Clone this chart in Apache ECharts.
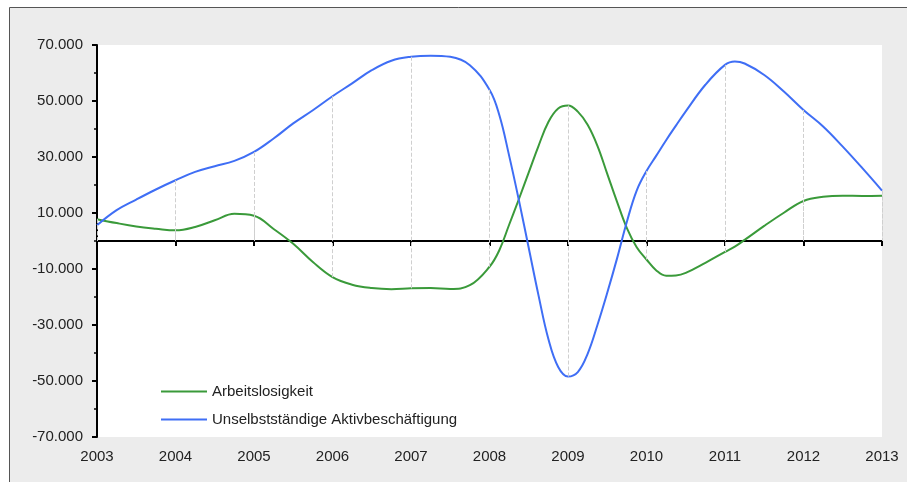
<!DOCTYPE html>
<html lang="de">

<head>
  <meta charset="UTF-8">
  <title>Arbeitslosigkeit und Aktivbeschäftigung</title>
  <script src="https://cdn.jsdelivr.net/npm/echarts@6/dist/echarts.min.js"></script>
</head>
<style>
  html,
  body {
    margin: 0;
    padding: 0;
    background: #fff;
  }

  #chart {
    width: 907px;
    height: 482px;
  }
</style>

<body>
  <div id="chart"></div>
</body>
<script>
  // Zeitpunkte (Jahr, quartalsweise; um die Wende 2008-2010 achtelweise)
  var periods = [
    2003, 2003.25, 2003.5, 2003.75,
    2004, 2004.25, 2004.5, 2004.75,
    2005, 2005.25, 2005.5, 2005.75,
    2006, 2006.25, 2006.5, 2006.75,
    2007, 2007.25, 2007.5, 2007.75,
    2008, 2008.125, 2008.25, 2008.375, 2008.5, 2008.625, 2008.75, 2008.875,
    2009, 2009.125, 2009.25, 2009.375, 2009.5, 2009.625, 2009.75, 2009.875,
    2010, 2010.125, 2010.25, 2010.375, 2010.5, 2010.75,
    2011, 2011.125, 2011.25, 2011.5, 2011.75,
    2012, 2012.25, 2012.5, 2012.75,
    2013
  ];

  var arbeitslosigkeit = [
    7800, 6400, 5200, 4400,
    3800, 5000, 7400, 9700,
    9000, 4300, -1000, -7500,
    -12900, -15600, -16800, -17200,
    -16900, -16800, -17100, -15800,
    -9200, -3300, 5800, 15000, 24500, 34000, 42500, 47300,
    48400, 46200, 41500, 34000, 24000, 14000, 4600, -2200,
    -6600, -10500, -12400, -12300, -11400, -7800,
    -3900, -2000, 400, 5400, 10100,
    14300, 15800, 16200, 16100,
    16200
  ];

  var aktivbeschaeftigung = [
    5600, 11000, 14800, 18400,
    21700, 24700, 26700, 28600,
    31800, 36600, 42000, 46700,
    51700, 56300, 61000, 64400,
    65800, 66200, 65800, 62800,
    54000, 45000, 30500, 14500, -2500, -19500, -35000, -45000,
    -48400, -46800, -40300, -30000, -18500, -6200, 6900, 18000,
    25000, 30500, 36000, 41200, 46300, 55800,
    62900, 64100, 63400, 59300, 53400,
    46800, 40900, 33700, 26000,
    18000
  ];

  var years = [2003, 2004, 2005, 2006, 2007, 2008, 2009, 2010, 2011, 2012, 2013];
  var seriesNames = ['Arbeitslosigkeit', 'Unselbstständige Aktivbeschäftigung'];

  var font = "'Liberation Sans', Arial, sans-serif";

  function pairs(values) {
    return periods.map(function (p, i) { return [p, values[i]]; });
  }

  // gestrichelte Lote von den Jahreswerten zur Nulllinie
  function dropLines(values) {
    var out = [];
    years.forEach(function (yr) {
      var i = periods.indexOf(yr);
      if (i < 0) return;
      out.push([{ coord: [yr, values[i]] }, { coord: [yr, 0] }]);
    });
    return out;
  }

  function deNumber(v) {
    var s = Math.abs(v).toString().replace(/\B(?=(\d{3})+(?!\d))/g, '.');
    return (v < 0 ? '-' : '') + s;
  }

  function lineSeries(name, values, color) {
    return {
      name: name,
      type: 'line',
      xAxisIndex: 0,
      data: pairs(values),
      smooth: 0.4,
      symbol: 'none',
      lineStyle: { color: color, width: 2 },
      itemStyle: { color: color },
      z: 3,
      markLine: {
        silent: true,
        symbol: ['none', 'none'],
        label: { show: false },
        lineStyle: { type: 'dashed', color: '#cfcfcf', width: 1 },
        data: dropLines(values),
        animation: false
      }
    };
  }

  var myChart = echarts.init(document.getElementById('chart'));

  myChart.setOption({
    animation: false,
    backgroundColor: '#fff',
    textStyle: { fontFamily: font },
    graphic: [{
      type: 'rect',
      z: -10,
      shape: { x: 9.5, y: 7.5, width: 1000, height: 1000 },
      style: { fill: '#ececec', stroke: '#555', lineWidth: 1 }
    }],
    grid: {
      left: 97,
      top: 45,
      right: 25,
      bottom: 45,
      show: true,
      backgroundColor: '#fff',
      borderWidth: 0
    },
    legend: {
      data: seriesNames,
      icon: 'rect',
      orient: 'vertical',
      left: 161,
      top: 384,
      padding: 0,
      itemWidth: 46,
      itemHeight: 2,
      itemGap: 13,
      textStyle: { fontSize: 15, color: '#222', fontFamily: font }
    },
    xAxis: [{
      type: 'value',
      min: 2003,
      max: 2013,
      interval: 1,
      position: 'bottom',
      axisLine: { show: false, onZero: false },
      axisTick: { show: false },
      splitLine: { show: false },
      axisLabel: {
        fontSize: 15,
        color: '#222',
        margin: 12,
        formatter: function (v) { return String(v); }
      }
    }, {
      type: 'value',
      min: 2003,
      max: 2013,
      interval: 1,
      position: 'bottom',
      axisLine: { show: true, onZero: true, lineStyle: { color: '#000', width: 2 } },
      axisTick: { show: true, length: 5, lineStyle: { color: '#000', width: 2 } },
      axisLabel: { show: false },
      splitLine: { show: false }
    }],
    yAxis: {
      type: 'value',
      min: -70000,
      max: 70000,
      interval: 20000,
      axisLine: { show: true, lineStyle: { color: '#000', width: 2 } },
      axisTick: { show: true, length: 5, lineStyle: { color: '#000', width: 2 } },
      minorTick: { show: true, splitNumber: 2, length: 3, lineStyle: { color: '#000', width: 1.5 } },
      splitLine: { show: false },
      axisLabel: {
        fontSize: 15,
        color: '#222',
        margin: 14,
        formatter: deNumber
      }
    },
    series: [
      lineSeries(seriesNames[0], arbeitslosigkeit, '#3a9a3a'),
      lineSeries(seriesNames[1], aktivbeschaeftigung, '#3f6ef5')
    ]
  });
</script>

</html>
